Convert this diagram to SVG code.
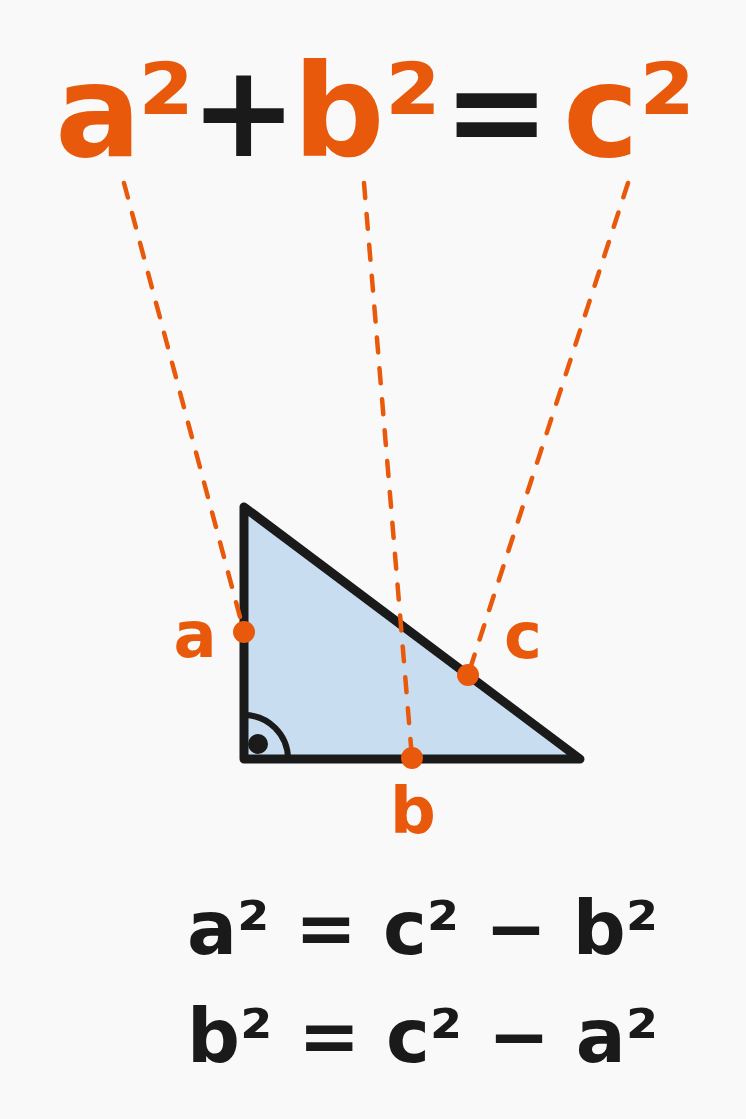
<svg xmlns="http://www.w3.org/2000/svg" width="746" height="1119" viewBox="0 0 746 1119">
<style>
.t{font-family:"DejaVu Sans","Liberation Sans",sans-serif;font-weight:bold}
.o{fill:#E8590C}
.k{fill:#1A1A1A}
.dash{fill:none;stroke:#E8590C;stroke-width:4.5;stroke-dasharray:15 16;stroke-linecap:round}
</style>
<rect width="746" height="1119" fill="#F9F9F9"/>
<g id="formula">
<text class="t" y="156" font-size="128"><tspan class="o" x="55">a</tspan><tspan class="o" x="138">²</tspan><tspan class="k" x="190">+</tspan><tspan class="o" x="293">b²</tspan><tspan class="k" x="443">=</tspan><tspan class="o" x="563">c²</tspan></text>
</g>
<g id="triangle">
<path d="M244 507 L244 759 L580 759 Z" fill="#C8DEF0" stroke="#1A1A1A" stroke-width="9" stroke-linejoin="round"/>
<path d="M244 715 A44 44 0 0 1 288 759" fill="none" stroke="#1A1A1A" stroke-width="6"/>
<circle cx="258" cy="744" r="10" fill="#1A1A1A"/>
</g>
<g id="connectors">
<line class="dash" x1="124" y1="183" x2="244" y2="632"/>
<line class="dash" x1="364" y1="183" x2="412" y2="758"/>
<line class="dash" x1="628" y1="183" x2="468" y2="675"/>
</g>
<g id="point-a">
<circle cx="244" cy="632" r="11" fill="#E8590C"/>
<text class="t o" x="195" y="657" font-size="64" text-anchor="middle">a</text>
</g>
<g id="point-b">
<circle cx="412" cy="758" r="11" fill="#E8590C"/>
<text class="t o" x="413" y="833" font-size="64" text-anchor="middle">b</text>
</g>
<g id="point-c">
<circle cx="468" cy="675" r="11" fill="#E8590C"/>
<text class="t o" x="523" y="658" font-size="64" text-anchor="middle">c</text>
</g>
<g id="eq1">
<text class="t k" x="187" y="954" font-size="74">a² = c² − b²</text>
</g>
<g id="eq2">
<text class="t k" x="187" y="1062" font-size="74">b² = c² − a²</text>
</g>
</svg>
